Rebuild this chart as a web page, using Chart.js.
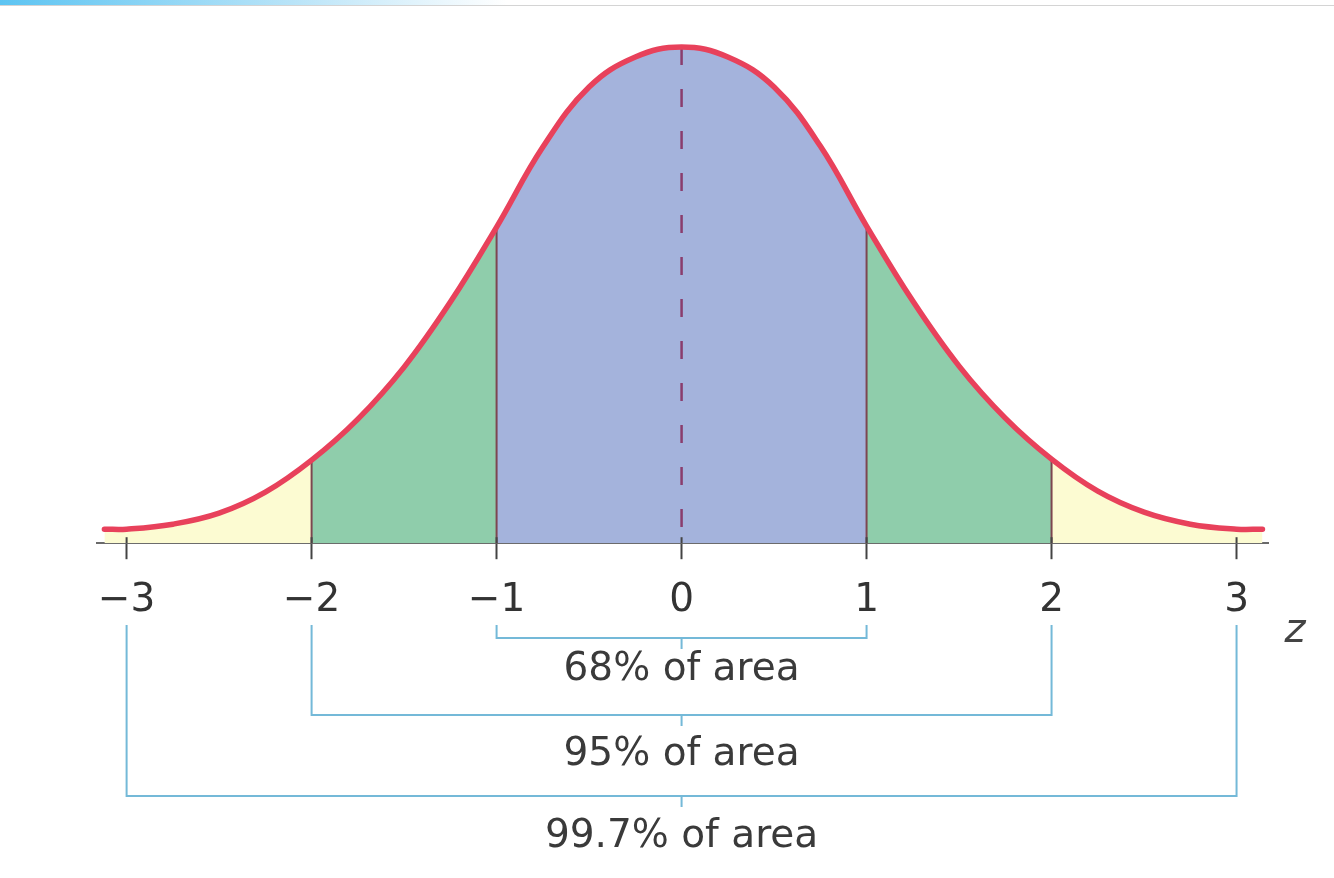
<!DOCTYPE html>
<html>
<head>
<meta charset="utf-8">
<script src="https://cdn.jsdelivr.net/npm/chart.js"></script>
<style>
  html, body { margin: 0; padding: 0; background: #fff; }
  #wrap { position: relative; width: 1334px; height: 878px; }
  #strip { position: absolute; left: 0; top: 0; width: 1334px; height: 5px;
    background: linear-gradient(to right, #5cc4f2 0%, #b9e4f8 22%, #ffffff 38%);
    border-bottom: 1px solid #d4d4d4; }
</style>
</head>
<body>
<div id="wrap">
  <canvas id="grafico"></canvas>
  <div id="strip"></div>
</div>
<script>
// valores z y altura de la curva
const zValores = [-3.12, -3, -2.75, -2.5, -2.25, -2, -1.75, -1.5, -1.25, -1, -0.75, -0.5, -0.25, 0,
                  0.25, 0.5, 0.75, 1, 1.25, 1.5, 1.75, 2, 2.25, 2.5, 2.75, 3, 3.14];
const alturas = [14, 14, 19, 30, 51, 83, 124, 176, 241, 316, 396, 456, 486, 496,
                 486, 456, 397, 317, 242, 177, 125, 84, 52, 31, 19, 14, 14];
const ticksZ = [-3, -2, -1, 0, 1, 2, 3];
const limitesZ = [-2, -1, 1, 2];
const mediaZ = 0;
const tramosDesde = [-1, -2, -3];
const tramosHasta = [1, 2, 3];
const tramosTexto = ['68% of area', '95% of area', '99.7% of area'];

const AZUL = '#a4b3dc';
const VERDE = '#8fcdab';
const AMARILLO = '#fcfbd2';
const FUENTE = '"DejaVu Sans", sans-serif';

const puntos = zValores.map((z, i) => ({ x: z, y: alturas[i] }));

const colorTramo = (c) => {
  const a = c.p0.parsed.x, b = c.p1.parsed.x;
  if (b <= -2 || a >= 2) return AMARILLO;
  if (b <= -1 || a >= 1) return VERDE;
  return AZUL;
};

const lineasPlugin = {
  id: 'lineas',
  afterDatasetDraw(chart, args) {
    if (args.index !== 1) return;
    const ctx = chart.ctx;
    const base = chart.scales.y.getPixelForValue(0);
    const meta = chart.getDatasetMeta(1);
    ctx.save();
    ctx.lineWidth = 2;
    ctx.strokeStyle = '#7d4650';
    limitesZ.forEach(z => {
      const p = meta.data[zValores.indexOf(z)];
      ctx.beginPath();
      ctx.moveTo(p.x, base);
      ctx.lineTo(p.x, p.y);
      ctx.stroke();
    });
    const m = meta.data[zValores.indexOf(mediaZ)];
    ctx.strokeStyle = '#8a3d6d';
    ctx.lineWidth = 2.5;
    ctx.setLineDash([18, 24]);
    ctx.beginPath();
    ctx.moveTo(m.x, m.y);
    ctx.lineTo(m.x, base);
    ctx.stroke();
    ctx.restore();
  },
  afterDraw(chart) {
    const ctx = chart.ctx;
    const x = chart.scales.x;
    const base = chart.scales.y.getPixelForValue(0);
    ctx.save();
    // pequeñas marcas sobre el eje
    ctx.strokeStyle = '#444';
    ctx.lineWidth = 2;
    ticksZ.forEach(z => {
      const px = x.getPixelForValue(z);
      ctx.beginPath();
      ctx.moveTo(px, base - 6);
      ctx.lineTo(px, base);
      ctx.stroke();
    });
    // corchetes
    const arriba = 625;
    const niveles = [638, 715, 796];
    const textos = [668, 753, 835];
    ctx.font = '39px ' + FUENTE;
    ctx.textAlign = 'center';
    ctx.textBaseline = 'middle';
    tramosDesde.forEach((d, i) => {
      const x1 = x.getPixelForValue(d);
      const x2 = x.getPixelForValue(tramosHasta[i]);
      const xc = (x1 + x2) / 2;
      ctx.strokeStyle = '#74b9d8';
      ctx.lineWidth = 2;
      ctx.beginPath();
      ctx.moveTo(x1, arriba);
      ctx.lineTo(x1, niveles[i]);
      ctx.lineTo(x2, niveles[i]);
      ctx.lineTo(x2, arriba);
      ctx.moveTo(xc, niveles[i]);
      ctx.lineTo(xc, niveles[i] + 11);
      ctx.stroke();
      ctx.fillStyle = '#3a3a3a';
      ctx.fillText(tramosTexto[i], xc, textos[i] + 2);
    });
    ctx.font = 'italic 40px ' + FUENTE;
    ctx.fillStyle = '#444';
    ctx.fillText('z', x.right + 27, 632);
    ctx.restore();
  }
};

const ctxGrafico = document.getElementById('grafico').getContext('2d');
const configuracion = {
  type: 'line',
  data: {
    datasets: [{
      label: 'curva',
      data: puntos,
      borderColor: '#e8415b',
      borderWidth: 5.5,
      borderCapStyle: 'round',
      pointRadius: 0,
      fill: false,
      tension: 0.4,
      clip: false
    }, {
      label: 'area',
      data: puntos,
      borderWidth: 0,
      borderColor: 'rgba(0,0,0,0)',
      pointRadius: 0,
      fill: 'origin',
      backgroundColor: AZUL,
      segment: { backgroundColor: colorTramo },
      tension: 0.4
    }]
  },
  plugins: [lineasPlugin],
  options: {
    responsive: true,
    maintainAspectRatio: false,
    animation: false,
    events: [],
    layout: { padding: { left: 97, right: 66, top: 27, bottom: 236 } },
    scales: {
      x: {
        type: 'linear',
        min: -3.16,
        max: 3.17,
        z: 1,
        afterBuildTicks: (s) => { s.ticks = ticksZ.map(v => ({ value: v })); },
        border: { display: true, color: '#6a6a6a', width: 2 },
        grid: { drawOnChartArea: false, drawTicks: true, tickLength: 16, tickColor: '#444', tickWidth: 2 },
        ticks: {
          padding: 18,
          color: '#333',
          font: { family: FUENTE, size: 39 },
          callback: (v) => v < 0 ? '\u2212' + Math.abs(v) : String(v)
        }
      },
      y: { display: false, min: 0, max: 516 }
    },
    plugins: {
      legend: { display: false },
      tooltip: { enabled: false }
    }
  }
};
var grafico = new Chart(ctxGrafico, configuracion);
</script>
</body>
</html>
